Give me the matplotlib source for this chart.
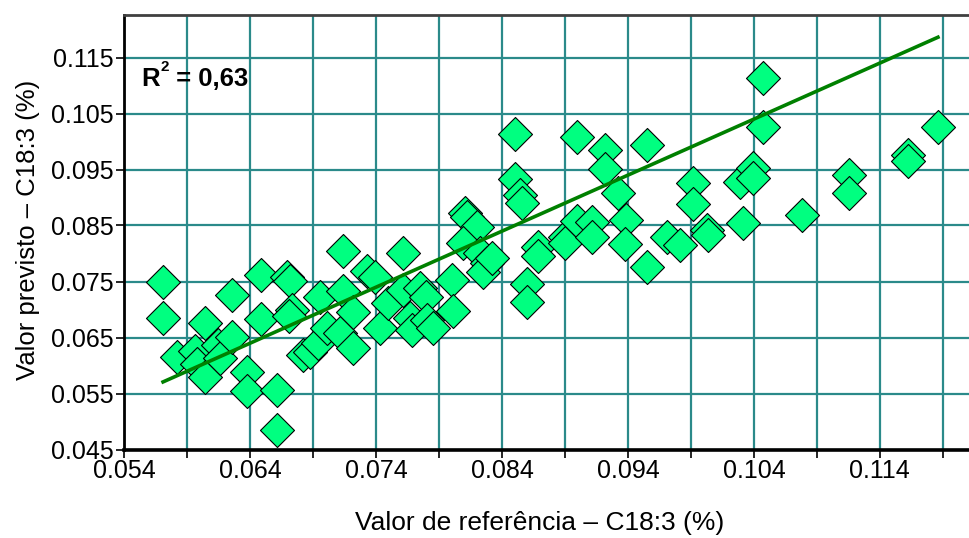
import matplotlib
matplotlib.use("Agg")
import matplotlib.pyplot as plt
import numpy as np

# ---- data ----
x_ref = [0.05707, 0.05707, 0.05818, 0.05961, 0.05977, 0.06040, 0.06040, 0.06143,
         0.06159, 0.06255, 0.06255, 0.06374, 0.06374, 0.06485, 0.06485, 0.06612,
         0.06612, 0.06691, 0.06715, 0.06731, 0.06707, 0.06819, 0.06874, 0.06938,
         0.06954, 0.07009, 0.07112, 0.07136, 0.07136, 0.07216, 0.07216, 0.07327,
         0.07390, 0.07430, 0.07494, 0.07613, 0.07613, 0.07668, 0.07684, 0.07748,
         0.07796, 0.07804, 0.07851, 0.08002, 0.08010, 0.08105, 0.08121, 0.08201,
         0.08089, 0.08224, 0.08280, 0.08248, 0.08320, 0.08502, 0.08502, 0.08542,
         0.08558, 0.08598, 0.08598, 0.08685, 0.08685, 0.08900, 0.08900, 0.08995,
         0.08995, 0.09114, 0.09114, 0.09217, 0.09217, 0.09321, 0.09384, 0.09376,
         0.09551, 0.09551, 0.09710, 0.09813, 0.09916, 0.09916, 0.10027, 0.10035,
         0.10290, 0.10313, 0.10393, 0.10393, 0.10472, 0.10472, 0.10782, 0.11155,
         0.11155, 0.11624, 0.11624, 0.11862]
y_pred = [0.07491, 0.06848, 0.06152, 0.06259, 0.06027, 0.06759, 0.05795, 0.06366,
          0.06134, 0.07259, 0.06509, 0.05884, 0.05545, 0.07616, 0.06830, 0.05563,
          0.04848, 0.07580, 0.07509, 0.06991, 0.06884, 0.06188, 0.06241, 0.06402,
          0.07223, 0.06670, 0.06580, 0.08045, 0.07330, 0.06955, 0.06313, 0.07688,
          0.07580, 0.06670, 0.07116, 0.08009, 0.07348, 0.06848, 0.06634, 0.07384,
          0.07223, 0.06813, 0.06670, 0.07527, 0.06973, 0.08723, 0.08652, 0.08473,
          0.08188, 0.08009, 0.07830, 0.07670, 0.07920, 0.10134, 0.09330, 0.09045,
          0.08902, 0.07455, 0.07134, 0.08116, 0.07955, 0.08295, 0.08188, 0.10080,
          0.08580, 0.08563, 0.08295, 0.09848, 0.09509, 0.09080, 0.08598, 0.08170,
          0.09938, 0.07759, 0.08295, 0.08152, 0.09259, 0.08884, 0.08420, 0.08330,
          0.09277, 0.08545, 0.09527, 0.09348, 0.11134, 0.10259, 0.08688, 0.09402,
          0.09080, 0.09759, 0.09652, 0.10259]
fit_slope = 1.0
fit_intercept = 0.0
r2_base = "R"
r2_sup = "2"
r2_rest = " = 0,63"
x_major = [0.054, 0.064, 0.074, 0.084, 0.094, 0.104, 0.114]
x_minor = [0.059, 0.069, 0.079, 0.089, 0.099, 0.109, 0.119]
y_major = [0.045, 0.055, 0.065, 0.075, 0.085, 0.095, 0.105, 0.115]
x_label = "Valor de referência – C18:3 (%)"
y_label = "Valor previsto – C18:3 (%)"

plt.rcParams['font.family'] = ['Liberation Sans', 'DejaVu Sans']

fig = plt.figure(figsize=(9.7, 5.38), dpi=100)
ax = fig.add_axes([124.4 / 970, 88.5 / 538, 845.6 / 970, 434.8 / 538])

grid_c = '#2b8a8a'
ax.set_xlim(0.054, 0.054 + 845.6 / 12590)
ax.set_ylim(0.045, 0.045 + 434.8 / 5600)
ax.set_xticks(x_major)
ax.set_xticks(x_minor, minor=True)
ax.set_yticks(y_major)
ax.set_xticklabels([f"{v:.3f}" for v in x_major])
ax.set_yticklabels([f"{v:.3f}" for v in y_major])
ax.grid(True, which='both', axis='x', color=grid_c, lw=1.6, zorder=0)
ax.grid(True, which='major', axis='y', color=grid_c, lw=1.6, zorder=0)
ax.set_axisbelow(True)

ax.tick_params(axis='both', which='both', direction='out', length=6, width=1.2,
               colors='black', labelsize=18)
ax.tick_params(axis='x', pad=1)
ax.tick_params(axis='y', pad=2)

for s in ['left', 'bottom']:
    ax.spines[s].set_color('black')
ax.spines['left'].set_linewidth(2.0)
ax.spines['bottom'].set_linewidth(2.6)
ax.spines['top'].set_linewidth(2.0)
ax.spines['top'].set_color('#404040')
ax.spines['right'].set_visible(False)

ax.scatter(x_ref, y_pred, marker='D', s=300, facecolor='#00ff80',
           edgecolor='black', linewidth=0.8, zorder=3)

xs = np.array([min(x_ref), max(x_ref)])
ax.plot(xs, fit_slope * xs + fit_intercept, color='#008000', lw=2.6, zorder=4)

fig.text(141.7 / 970, 1 - 86 / 538, r2_base, fontsize=18.5, fontweight='bold',
         ha='left', va='baseline')
fig.text(161 / 970, 1 - 71 / 538, r2_sup, fontsize=11, fontweight='bold',
         ha='left', va='baseline')
fig.text(169 / 970, 1 - 86 / 538, r2_rest, fontsize=18.5, fontweight='bold',
         ha='left', va='baseline')

fig.text(540 / 970, 1 - 530 / 538, x_label, fontsize=19, ha='center', va='baseline')
fig.text(28 / 970, (538 - 230) / 538, y_label, fontsize=18.5, ha='center', va='center',
         rotation=90)

fig.savefig('out.png', dpi=100)
